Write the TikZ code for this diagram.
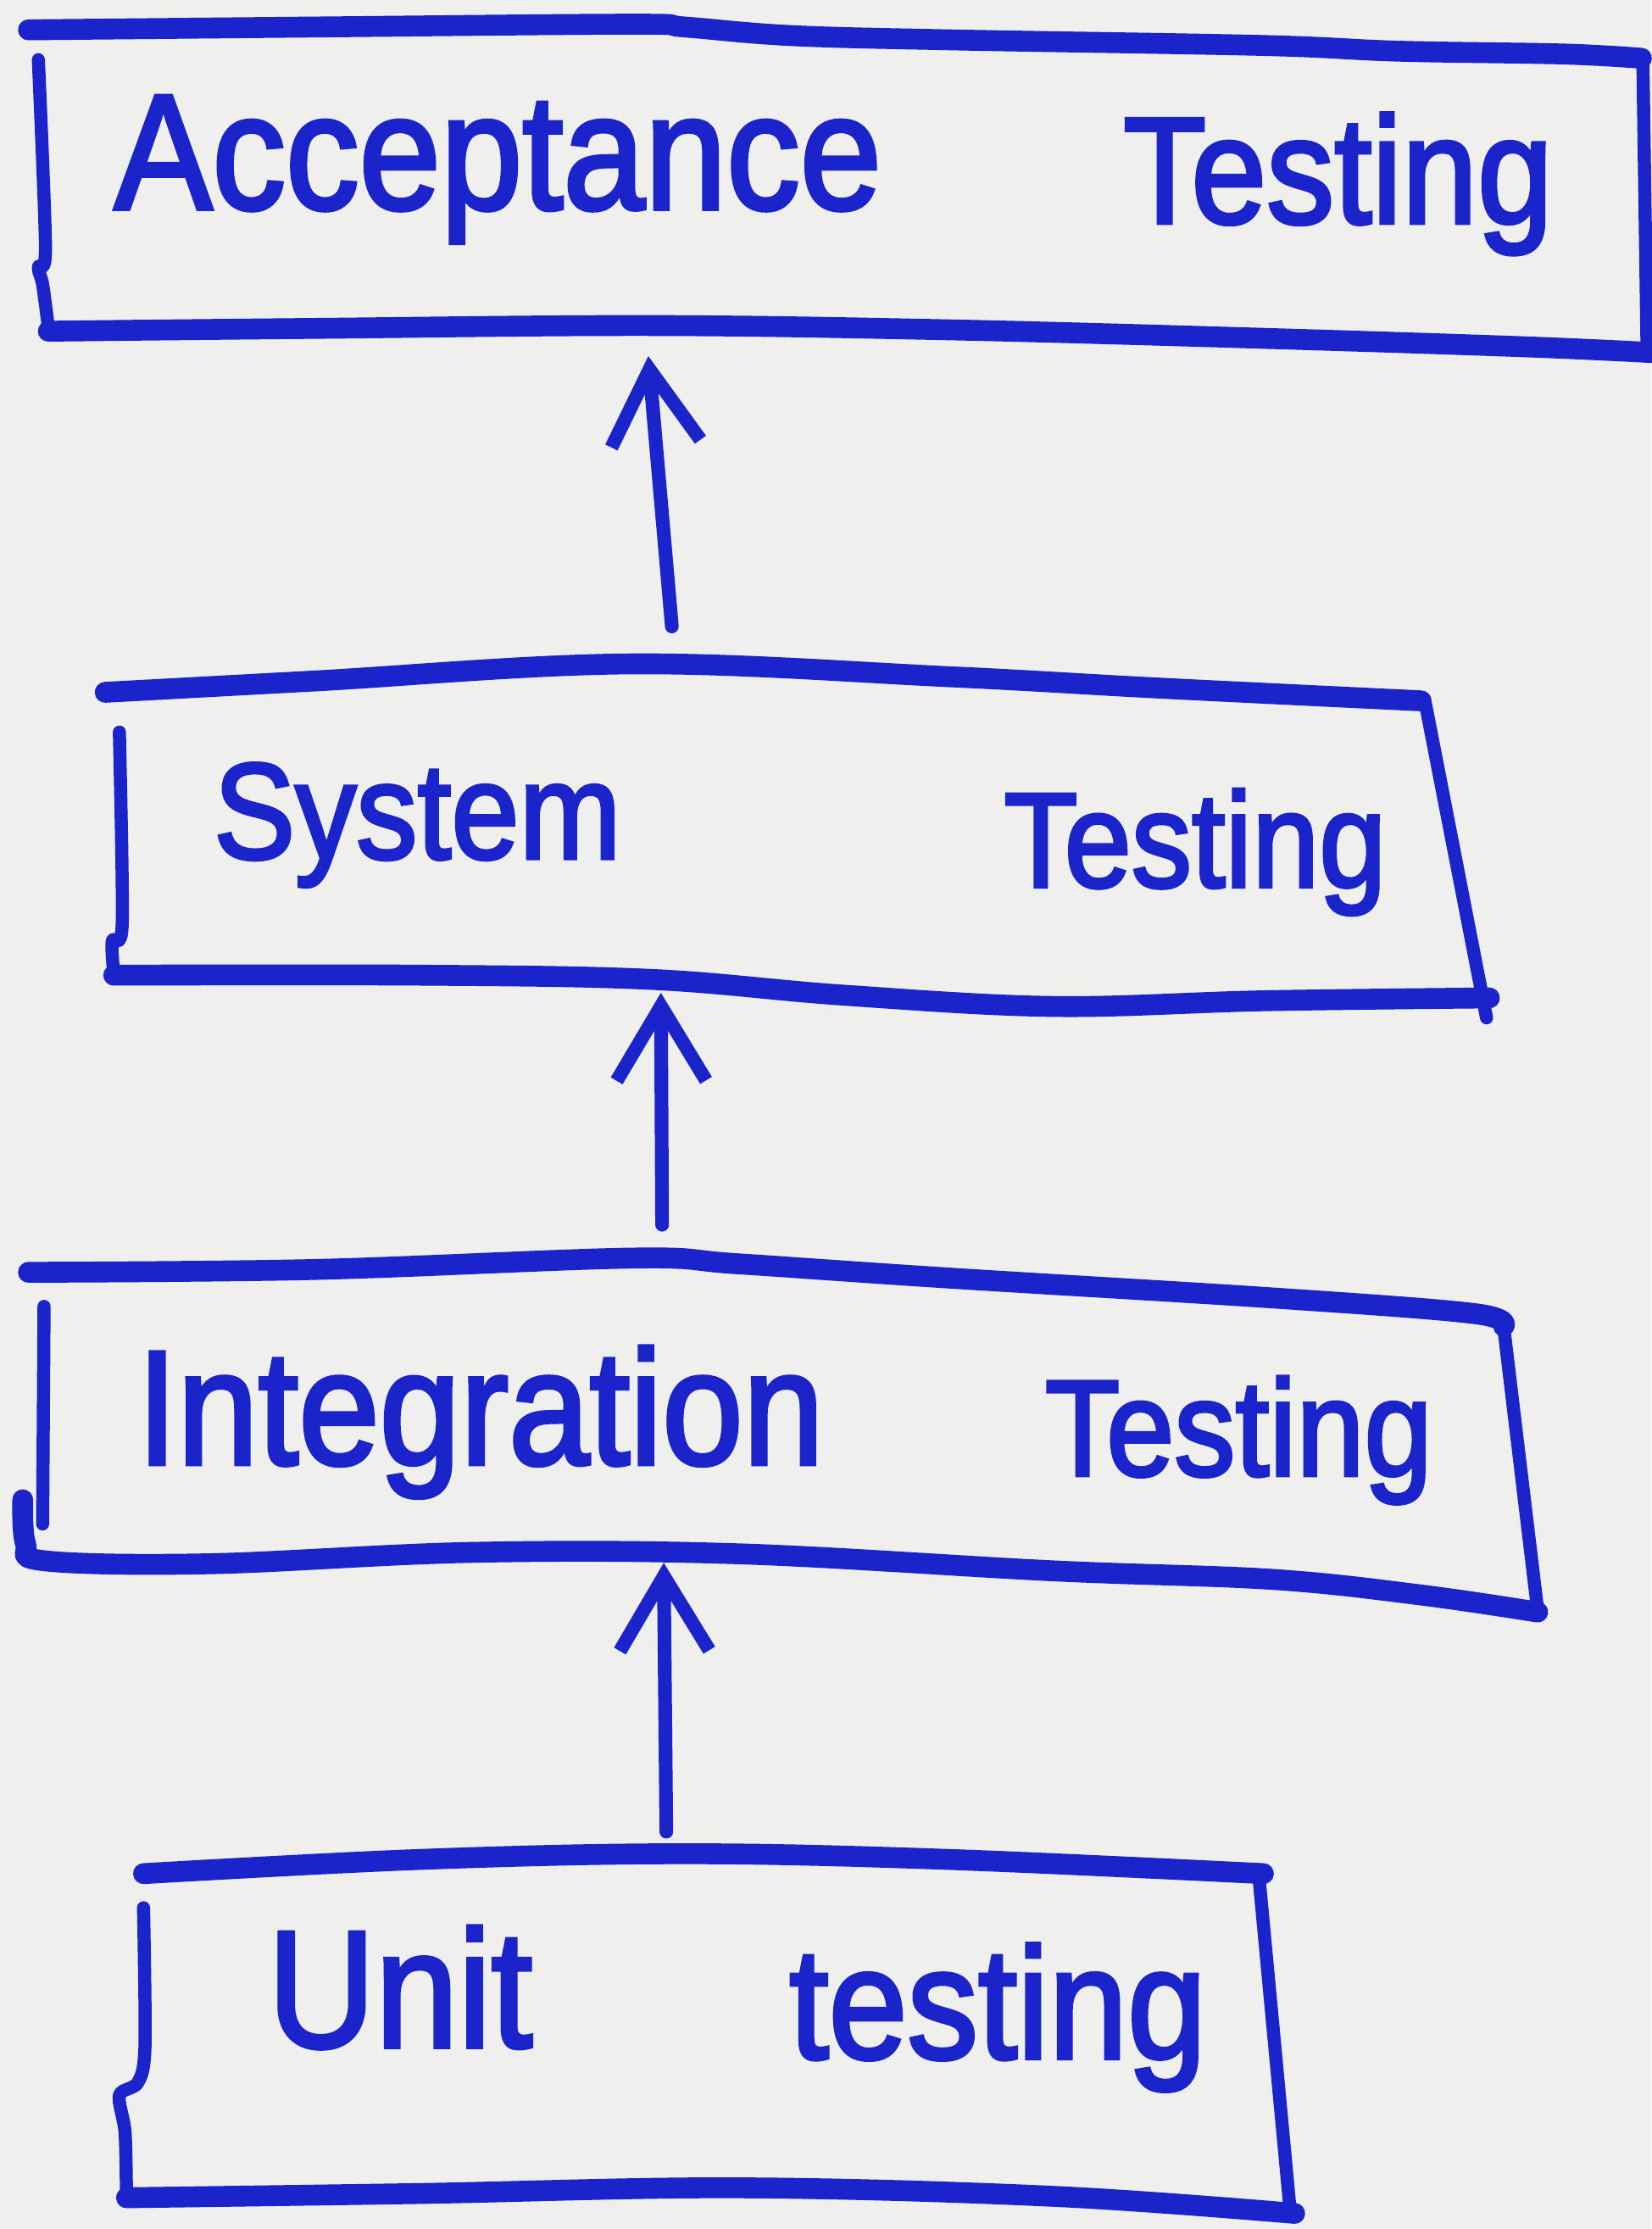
\documentclass[tikz,border=0pt]{standalone}
\usepackage{fontspec}
\setmainfont{Liberation Sans}
\newfontfamily\hand{Liberation Sans}[FakeBold=2.5]
\usetikzlibrary{arrows.meta,fit}
\definecolor{ink}{RGB}{26,36,202}
\definecolor{paper}{RGB}{239,239,237}
\begin{document}
\begin{tikzpicture}[x=0.016764cm, y=-0.016764cm,
  hline/.style={draw=ink, line width=7pt, line cap=round, line join=round},
  vline/.style={draw=ink, line width=4.4pt, line cap=round, line join=round},
  arr/.style={draw=ink, line width=4.6pt, line cap=round, line join=round, -{Straight Barb[length=25pt, width=30pt]}},
  word/.style={text=ink, anchor=base west, inner sep=0pt, font=\hand\fontsize{#1pt}{#1pt}\selectfont},
  boxarea/.style={inner sep=0pt, draw=none}]
\fill[paper] (0,0) rectangle (1162,1568);
\useasboundingbox (0,0) rectangle (1162,1568);

% Acceptance box
\draw[hline] plot[smooth, tension=0.6] coordinates {(20,21) (222,19) (445,17) (482,19) (556,25) (667,28) (889,32) (984,36) (1100,38) (1155,41)};
\draw[vline] (1156,42) -- (1159,249);
\draw[hline] plot[smooth, tension=0.6] coordinates {(34,233) (222,231) (459,229) (667,232) (889,238) (1074,244) (1162,248)};
\draw[vline] plot[smooth, tension=0.5] coordinates {(27,42) (32,175) (27,188) (30,200) (34,230)};
\node[boxarea, fit={(20,17) (1159,248)}] (accbox) {};
\node[word=49.3] (accL) at (80,147) {\scalebox{1}[1.12]{Acceptance}};
\node[word=45.5] (accR) at (790,157) {\scalebox{1}[1.12]{Testing}};

% System box
\draw[hline] plot[smooth, tension=0.6] coordinates {(74,487) (222,479) (445,467) (667,476) (815,484) (1000,493)};
\draw[vline] (1003,495) -- (1046,716);
\draw[hline] plot[smooth, tension=0.6] coordinates {(80,686) (296,686) (459,689) (593,700) (741,708) (889,704) (1048,702)};
\draw[vline] plot[smooth, tension=0.5] coordinates {(84,515) (86,650) (79,662) (80,684)};
\node[boxarea, fit={(74,467) (1046,690)}] (sysbox) {};
\node[word=41] (sysL) at (150,604) {\scalebox{1}[1.12]{System}};
\node[word=40.5] (sysR) at (706,624) {\scalebox{1}[1.12]{Testing}};

% Integration box
\draw[hline] plot[smooth, tension=0.6] coordinates {(20,895) (222,893) (445,885) (519,889) (667,899) (895,913) (1037,924) (1058,933)};
\draw[vline] (1058,933) -- (1082,1133);
\draw[hline] plot[smooth, tension=0.6] coordinates {(16,1055) (18,1086) (32,1098) (148,1100) (333,1092) (519,1093) (741,1105) (895,1111) (1000,1122) (1082,1134)};
\draw[vline] (31,919) -- (30,1072);
\node[boxarea, fit={(16,885) (1082,1096)}] (intbox) {};
\node[word=48.8] (intL) at (96,1030) {\scalebox{1}[1.12]{Integration}};
\node[word=41] (intR) at (735,1038) {\scalebox{1}[1.12]{Testing}};

% Unit box
\draw[hline] plot[smooth, tension=0.6] coordinates {(101,1318) (296,1308) (482,1304) (667,1308) (889,1318)};
\draw[vline] (886,1322) -- (908,1557);
\draw[hline] plot[smooth, tension=0.6] coordinates {(89,1546) (296,1543) (519,1539) (741,1545) (911,1557)};
\draw[vline] plot[smooth, tension=0.5] coordinates {(101,1342) (102,1440) (97,1465) (84,1474) (88,1500) (89,1545)};
\node[boxarea, fit={(84,1304) (911,1557)}] (unitbox) {};
\node[word=50] (unitL) at (188,1440) {\scalebox{1}[1.12]{Unit}};
\node[word=47.5] (unitR) at (555,1448) {\scalebox{1}[1.12]{testing}};

% Arrows
\coordinate (ax1s) at (475,0);
\coordinate (ax1e) at (456,0);
\coordinate (ax2s) at (466,0);
\coordinate (ax2e) at (465,0);
\coordinate (ax3s) at (469,0);
\coordinate (ax3e) at (467,0);
\draw[arr, shorten <=12.4pt, shorten >=1pt] (sysbox.north -| ax1s) -- (accbox.south -| ax1e);
\draw[arr, shorten <=11pt, shorten >=3.8pt] (intbox.north -| ax2s) -- (sysbox.south -| ax2e);
\draw[arr, shorten <=7.2pt, shorten >=1.4pt] (unitbox.north -| ax3s) -- (intbox.south -| ax3e);
\end{tikzpicture}
\end{document}
